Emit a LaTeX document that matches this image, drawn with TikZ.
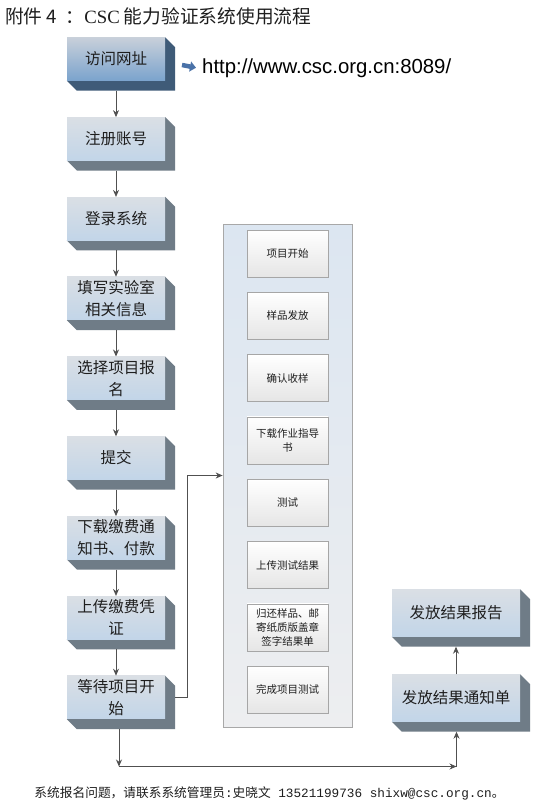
\documentclass[tikz,border=0pt]{standalone}
\usepackage{fontspec}
\newfontfamily\cjk{Noto Sans CJK SC}
\newfontfamily\urlfont{Liberation Sans}
\newfontfamily\monofont{Liberation Mono}
\newfontfamily\serifw{Liberation Serif}
\usetikzlibrary{calc,arrows.meta}
\pgfdeclarelayer{paper}
\pgfdeclarelayer{background}
\pgfsetlayers{paper,background,main}
\definecolor{topgray}{HTML}{DADFE5}
\definecolor{botblue}{HTML}{C2D5E8}
\definecolor{sidegray}{HTML}{6F7C87}
\definecolor{topblue1}{HTML}{C8D0DA}
\definecolor{botblue1}{HTML}{7BA3CD}
\definecolor{sideblue}{HTML}{3F5B78}
\definecolor{linegray}{HTML}{505050}
\definecolor{panelborder}{HTML}{A8A8A8}
\definecolor{paneltop}{HTML}{DCE6F1}
\definecolor{panelbot}{HTML}{EDEEF0}
\definecolor{innerborder}{HTML}{A6A6A6}
\definecolor{urlarrow}{HTML}{4A72A8}
\definecolor{txt}{HTML}{1E1E1E}
\newcommand\extrude[2]{%
  \begin{pgfonlayer}{background}
    \fill[#2] (#1.north east) -- ($(#1.north east)+(10,10)$) -- ($(#1.south east)+(10,10)$)
      -- ($(#1.south west)+(10,10)$) -- (#1.south west) -- cycle;
  \end{pgfonlayer}}
\begin{document}
\begin{tikzpicture}[x=1pt,y=-1pt,
  flowbox/.style={rectangle, inner sep=0pt, minimum width=98pt, minimum height=43pt,
    top color=topgray, bottom color=botblue, align=center, text=txt,
    font=\cjk\fontsize{15.5}{22}\selectfont},
  firstbox/.style={flowbox, top color=topblue1, bottom color=botblue1},
  resbox/.style={flowbox, minimum width=128pt, minimum height=47pt},
  innerbox/.style={rectangle, draw=innerborder, line width=0.6pt, inner sep=0pt,
    minimum width=81pt, minimum height=47pt, top color=white, bottom color=black!10,
    align=center, text=txt, font=\cjk\fontsize{10.5}{14}\selectfont},
  panelbox/.style={rectangle, draw=panelborder, line width=0.7pt, inner sep=0pt,
    minimum width=129pt, minimum height=503pt, top color=paneltop, bottom color=panelbot},
  arr/.style={draw=linegray, line width=0.8pt, -{Stealth[length=7pt,width=6pt]}}]
\begin{pgfonlayer}{paper}
\fill[white] (0,0) rectangle (539,803);
\end{pgfonlayer}
\useasboundingbox (0,0) rectangle (539,803);

% title
\node[anchor=base west, inner sep=0pt, text=txt] (title) at (5,23)
  {\resizebox{306pt}{!}{\cjk 附件 4 \ ：{\serifw CSC} 能力验证系统使用流程}};

% left column
\node[firstbox] (b1) at (116,59) {访问网址};
\node[flowbox] (b2) at (116,138.8) {注册账号};
\node[flowbox] (b3) at (116,218.6) {登录系统};
\node[flowbox] (b4) at (116,298.4) {填写实验室\\相关信息};
\node[flowbox] (b5) at (116,378.2) {选择项目报\\名};
\node[flowbox] (b6) at (116,458) {提交};
\node[flowbox] (b7) at (116,537.8) {下载缴费通\\知书、付款};
\node[flowbox] (b8) at (116,617.6) {上传缴费凭\\证};
\node[flowbox] (b9) at (116,697.4) {等待项目开\\始};
\extrude{b1}{sideblue}
\foreach \n in {b2,b3,b4,b5,b6,b7,b8,b9}{\extrude{\n}{sidegray}}

% url
\node[anchor=base west, inner sep=0pt] (url) at (202,73)
  {\resizebox{249pt}{!}{\urlfont\fontsize{20.3}{24}\selectfont http://www.csc.org.cn:8089/}};
\draw[urlarrow, line width=4.5pt, -{Triangle[length=6pt,width=10pt]}] (182,65) -- ($(url.west)+(-6,0)$);

% panel
\node[panelbox] (panel) at (287.5,475.5) {};
\node[innerbox] (p1) at (287.5,253.5) {项目开始};
\node[innerbox] (p2) at (287.5,315.8) {样品发放};
\node[innerbox] (p3) at (287.5,378.1) {确认收样};
\node[innerbox] (p4) at (287.5,440.4) {下载作业指导\\书};
\node[innerbox] (p5) at (287.5,502.7) {测试};
\node[innerbox] (p6) at (287.5,565) {上传测试结果};
\node[innerbox] (p7) at (287.5,627.3) {归还样品、邮\\寄纸质版盖章\\签字结果单};
\node[innerbox] (p8) at (287.5,689.6) {完成项目测试};

% result boxes
\node[resbox] (report) at (456,613) {发放结果报告};
\node[resbox] (notice) at (456,698) {发放结果通知单};
\extrude{report}{sidegray}
\extrude{notice}{sidegray}

% connectors
\foreach \a/\b in {b1/b2,b2/b3,b3/b4,b4/b5,b5/b6,b6/b7,b7/b8,b8/b9}{
  \draw[arr] ($(\a.south)+(0,10)$) -- (\b.north);}
\draw[arr] ($(b9.east)+(10,0)$) -| ($(panel.west)+(-35,0)$) -- (panel.west);
\coordinate (c1) at (119,766.5);
\coordinate (c2) at (456.5,766.5);
\draw[arr] ($(b9.south)+(3,10)$) -- (c1);
\draw[arr] (c1) -- (c2);
\draw[arr] (c2) -- ($(notice.south)+(0.5,10)$);
\draw[arr] (notice.north) -- ($(report.south)+(0,10)$);

% footer
\node[anchor=center, inner sep=0pt, text=txt] (footer) at (269.5,793)
  {\resizebox{470pt}{!}{\fontsize{13}{16}\selectfont{\cjk 系统报名问题，请联系系统管理员}{\monofont :}{\cjk 史晓文}{\monofont\ 13521199736 shixw@csc.org.cn}{\cjk 。}}};
\end{tikzpicture}
\end{document}
